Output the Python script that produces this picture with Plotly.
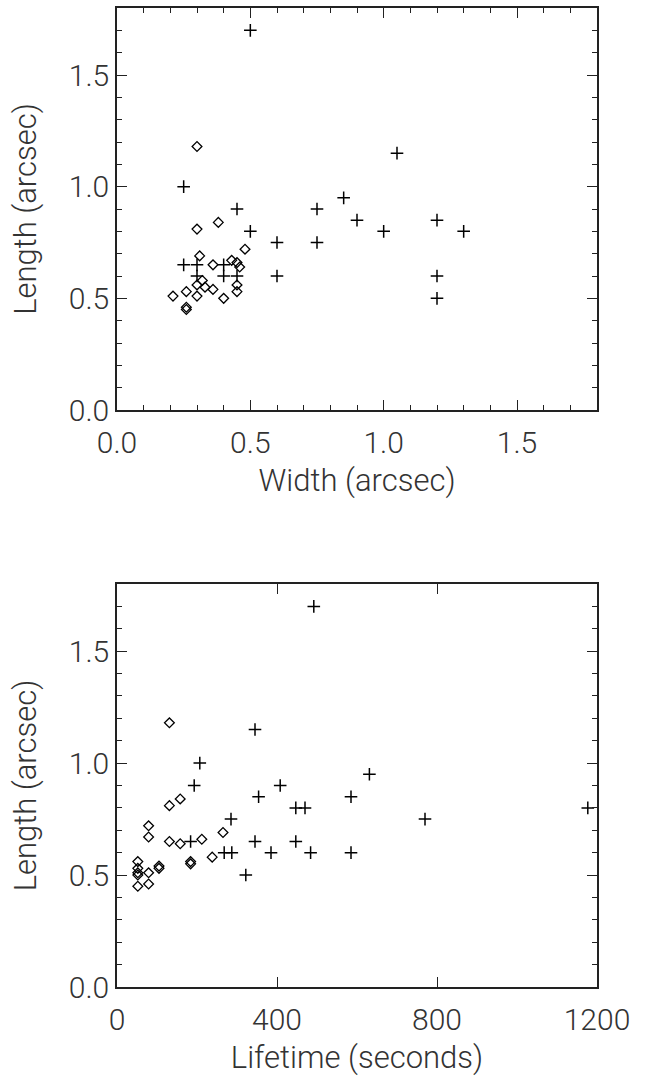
import plotly.graph_objects as go

# ---- Top panel: Length vs Width ----
plus_width = [0.50, 1.05, 0.25, 0.85, 0.45, 0.75, 0.90, 1.20, 0.50, 1.00, 1.30,
              0.60, 0.75, 0.25, 0.30, 0.40, 0.30, 0.40, 0.45, 0.60, 1.20, 1.20]
plus_length_w = [1.70, 1.15, 1.00, 0.95, 0.90, 0.90, 0.85, 0.85, 0.80, 0.80, 0.80,
                 0.75, 0.75, 0.65, 0.65, 0.65, 0.60, 0.60, 0.60, 0.60, 0.60, 0.50]

diam_width = [0.30, 0.38, 0.30, 0.48, 0.31, 0.43, 0.45, 0.46, 0.36, 0.32, 0.30,
              0.33, 0.36, 0.45, 0.45, 0.26, 0.21, 0.30, 0.40, 0.26, 0.26]
diam_length_w = [1.18, 0.84, 0.81, 0.72, 0.69, 0.67, 0.66, 0.64, 0.65, 0.58, 0.56,
                 0.55, 0.54, 0.56, 0.53, 0.53, 0.51, 0.51, 0.50, 0.46, 0.45]

# ---- Bottom panel: Length vs Lifetime ----
plus_life = [492, 345, 207, 631, 193, 408, 354, 585, 447, 470, 1177,
             285, 770, 184, 345, 447, 268, 287, 385, 484, 585, 322]
plus_length_l = [1.70, 1.15, 1.00, 0.95, 0.90, 0.90, 0.85, 0.85, 0.80, 0.80, 0.80,
                 0.75, 0.75, 0.65, 0.65, 0.65, 0.60, 0.60, 0.60, 0.60, 0.60, 0.50]

diam_life = [131, 131, 158, 79, 79, 265, 131, 158, 212, 238, 184,
             184, 105, 105, 52, 52, 52, 52, 79, 52, 79]
diam_length_l = [1.18, 0.81, 0.84, 0.72, 0.67, 0.69, 0.65, 0.64, 0.66, 0.58, 0.56,
                 0.55, 0.54, 0.53, 0.56, 0.53, 0.51, 0.50, 0.51, 0.45, 0.46]

FONT = "Roboto"
plus_marker = dict(symbol="cross-thin", size=9, color="black",
                   line=dict(color="black", width=1.5))
diam_marker = dict(symbol="diamond-open", size=7.5, color="black",
                   line=dict(color="black", width=1.3))

fig = go.Figure()
fig.add_trace(go.Scatter(x=plus_width, y=plus_length_w, mode="markers",
                         marker=plus_marker, xaxis="x", yaxis="y", showlegend=False))
fig.add_trace(go.Scatter(x=diam_width, y=diam_length_w, mode="markers",
                         marker=diam_marker, xaxis="x", yaxis="y", showlegend=False))
fig.add_trace(go.Scatter(x=plus_life, y=plus_length_l, mode="markers",
                         marker=plus_marker, xaxis="x2", yaxis="y2", showlegend=False))
fig.add_trace(go.Scatter(x=diam_life, y=diam_length_l, mode="markers",
                         marker=diam_marker, xaxis="x2", yaxis="y2", showlegend=False))

W, H = 652, 1076
xd = [117 / W, 597 / W]
yd_top = [1 - 410 / H, 1 - 8 / H]
yd_bot = [1 - 987 / H, 1 - 584 / H]

axis_common = dict(
    showline=True, linecolor="#222", linewidth=1.5, mirror="ticks",
    ticks="inside", ticklen=10, tickwidth=1.2, tickcolor="#222",
    showgrid=False, zeroline=False, automargin=False,
    tickfont=dict(family=FONT, size=30, color="#333", weight=300),
    title_font=dict(family=FONT, size=31, color="#333", weight=300),
)
minor_common = dict(ticks="inside", ticklen=5, tickwidth=1.2, tickcolor="#222", showgrid=False)

fig.update_layout(
    width=W, height=H, margin=dict(l=0, r=0, t=0, b=0),
    paper_bgcolor="white", plot_bgcolor="white",
    xaxis=dict(domain=xd, anchor="y", range=[0, 1.8], dtick=0.5, tick0=0,
               tickformat=".1f", minor=dict(dtick=0.1, **minor_common),
               ticklabelstandoff=5,
               title=dict(text="Width (arcsec)", standoff=11), **axis_common),
    yaxis=dict(domain=yd_top, anchor="x", range=[0, 1.8], dtick=0.5, tick0=0,
               tickformat=".1f", minor=dict(dtick=0.1, **minor_common),
               title=dict(text="Length (arcsec)", standoff=23), **axis_common),
    xaxis2=dict(domain=xd, anchor="y2", range=[0, 1200], dtick=400, tick0=0,
                ticklabelstandoff=5,
                title=dict(text="Lifetime (seconds)", standoff=11), **axis_common),
    yaxis2=dict(domain=yd_bot, anchor="x2", range=[0, 1.8], dtick=0.5, tick0=0,
                tickformat=".1f", minor=dict(dtick=0.1, **minor_common),
                title=dict(text="Length (arcsec)", standoff=23), **axis_common),
)

fig.write_html("out.html")
